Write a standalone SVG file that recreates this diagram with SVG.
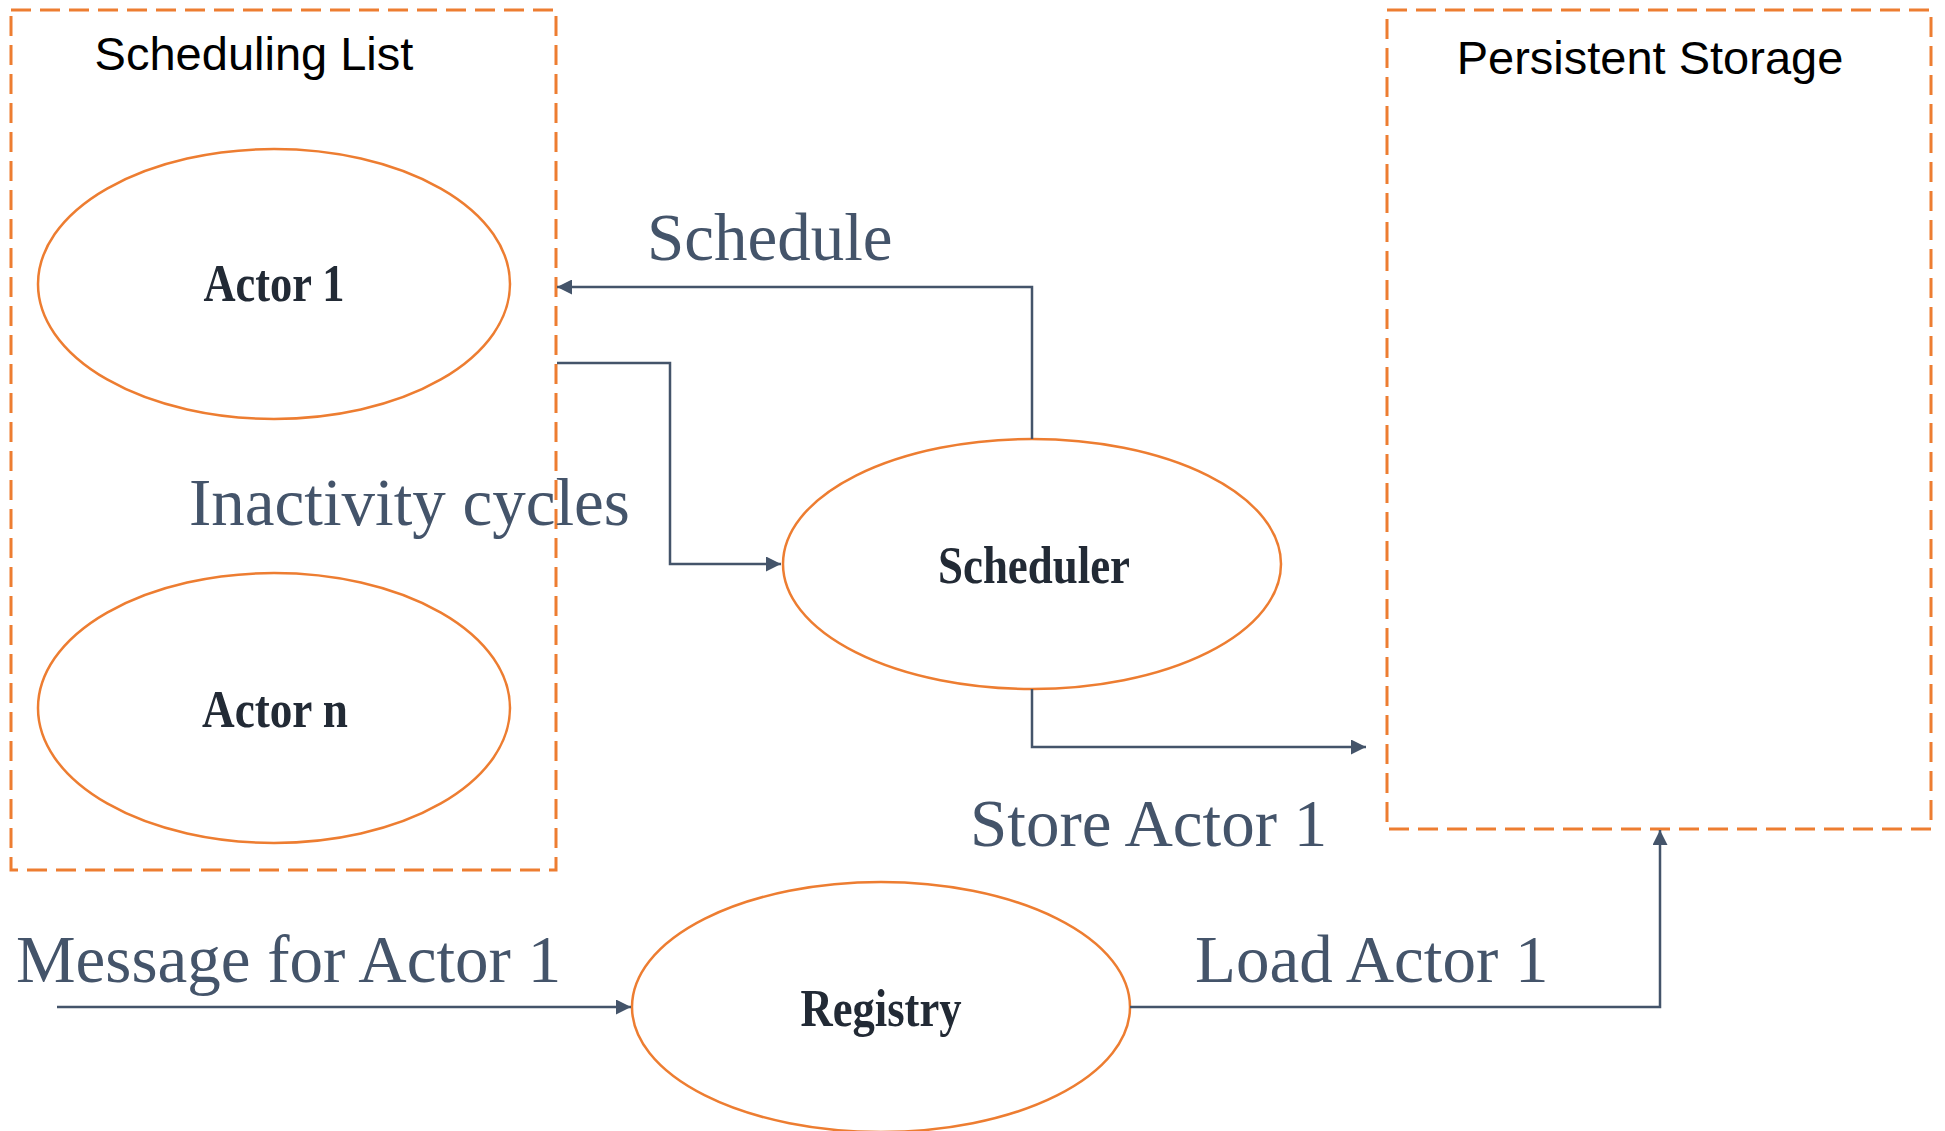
<svg xmlns="http://www.w3.org/2000/svg" width="1945" height="1131" viewBox="0 0 1945 1131">
  <style>
    .box { fill: none; stroke: #ED7D31; stroke-width: 3; stroke-dasharray: 20 9; }
    .node { fill: #FFFFFF; stroke: #ED7D31; stroke-width: 2.5; }
    .title { font-family: "Liberation Sans", Arial, sans-serif; font-size: 47px; fill: #000000; text-anchor: middle; }
    .nlabel { font-family: "Liberation Serif", "Times New Roman", serif; font-weight: bold; font-size: 52px; fill: #222A35; text-anchor: middle; }
    .elabel { font-family: "Liberation Serif", "Times New Roman", serif; font-size: 67px; fill: #44546A; }
    .edge { fill: none; stroke: #44546A; stroke-width: 2.5; }
  </style>
  <defs>
    <marker id="arrow" viewBox="0 0 10 10" refX="10" refY="5" markerWidth="6" markerHeight="6" markerUnits="strokeWidth" orient="auto">
      <path d="M0,0 L10,5 L0,10 Z" fill="#44546A"/>
    </marker>
  </defs>
  <rect width="1945" height="1131" fill="#FFFFFF"/>

  <!-- containers -->
  <g id="scheduling-list">
    <rect class="box" x="11" y="10" width="545" height="860"/>
    <text class="title" x="254" y="70">Scheduling List</text>
  </g>
  <g id="persistent-storage">
    <rect class="box" x="1387" y="10" width="544" height="819"/>
    <text class="title" x="1650" y="74">Persistent Storage</text>
  </g>

  <!-- nodes -->
  <g id="actor-1">
    <ellipse class="node" cx="274" cy="284" rx="236" ry="135"/>
    <text class="nlabel" x="274" y="301" textLength="141" lengthAdjust="spacingAndGlyphs">Actor 1</text>
  </g>
  <g id="actor-n">
    <ellipse class="node" cx="274" cy="708" rx="236" ry="135"/>
    <text class="nlabel" x="275" y="727" textLength="146" lengthAdjust="spacingAndGlyphs">Actor n</text>
  </g>
  <g id="scheduler">
    <ellipse class="node" cx="1032" cy="564" rx="249" ry="125"/>
    <text class="nlabel" x="1034" y="583" textLength="192" lengthAdjust="spacingAndGlyphs">Scheduler</text>
  </g>
  <g id="registry">
    <ellipse class="node" cx="881" cy="1007" rx="249" ry="125"/>
    <text class="nlabel" x="881" y="1026" textLength="161" lengthAdjust="spacingAndGlyphs">Registry</text>
  </g>

  <!-- connectors -->
  <g id="connectors">
    <polyline class="edge" points="1032,439 1032,287 557,287" marker-end="url(#arrow)"/>
    <polyline class="edge" points="557,363 670,363 670,564 781,564" marker-end="url(#arrow)"/>
    <polyline class="edge" points="1032,689 1032,747 1366,747" marker-end="url(#arrow)"/>
    <polyline class="edge" points="57,1007 631,1007" marker-end="url(#arrow)"/>
    <polyline class="edge" points="1130,1007 1660,1007 1660,830" marker-end="url(#arrow)"/>
  </g>

  <!-- connector labels -->
  <g id="labels">
    <text class="elabel" x="647" y="260">Schedule</text>
    <text class="elabel" x="189" y="525">Inactivity cycles</text>
    <text class="elabel" x="970" y="846">Store Actor 1</text>
    <text class="elabel" x="16" y="982">Message for Actor 1</text>
    <text class="elabel" x="1195" y="982">Load Actor 1</text>
  </g>
</svg>
